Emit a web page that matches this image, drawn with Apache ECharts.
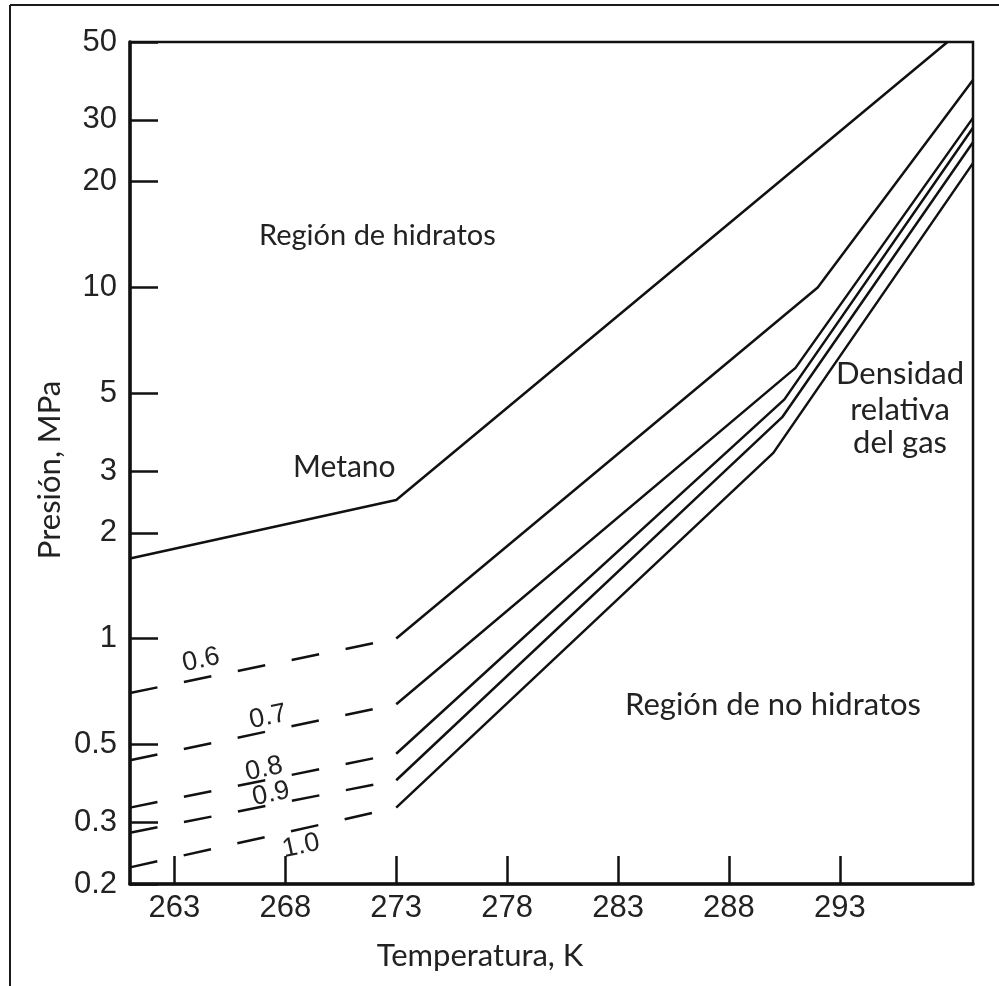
<!DOCTYPE html>
<html>
<head>
<meta charset="utf-8">
<script src="https://cdn.jsdelivr.net/npm/echarts@6/dist/echarts.min.js"></script>
<style>
  html, body { margin: 0; padding: 0; background: #ffffff; }
  #chart { width: 999px; height: 986px; }
</style>
</head>
<body>
<div id="chart"></div>
<script>
// Hydrate-formation conditions: pressure vs temperature for methane
// and for natural gases of several relative densities.

const xTicks = [263, 268, 273, 278, 283, 288, 293];
const yTicks = [0.2, 0.3, 0.5, 1, 2, 3, 5, 10, 20, 30, 50];

// Methane curve (K, MPa)
const metanoT = [261, 273, 297.85];
const metanoP = [1.69, 2.48, 50];

// Gas relative density curves
const gravities = ['0.6', '0.7', '0.8', '0.9', '1.0'];
const lowT = [261, 273];                       // dashed stretch below the ice point
const pAt261 = [0.70, 0.45, 0.33, 0.28, 0.223];
const pAt273 = [1.00, 0.65, 0.47, 0.395, 0.33];
const kinkT = [292, 291, 290.5, 290.4, 290];
const kinkP = [10.0, 5.9, 4.8, 4.27, 3.38];
const endT = 299;
const pAt299 = [39, 30.4, 28.5, 25.9, 22.6];

const INK = '#111111';
const TEXT = '#222222';
const LABEL_FONT = 'Liberation Sans';
const NOTE_FONT = 'Lato';

const series = [];
series.push({
  type: 'line',
  name: 'Metano',
  data: metanoT.map((t, i) => [t, metanoP[i]]),
  symbol: 'none',
  silent: true,
  lineStyle: { color: INK, width: 2.5 }
});
gravities.forEach((g, i) => {
  const low = [pAt261[i], pAt273[i]];
  series.push({
    type: 'line',
    name: g + ' (bajo 273 K)',
    data: lowT.map((t, j) => [t, low[j]]),
    symbol: 'none',
    silent: true,
    lineStyle: { color: INK, width: 2.5, type: [28, 27], cap: 'butt' }
  });
  series.push({
    type: 'line',
    name: g,
    data: [[273, pAt273[i]], [kinkT[i], kinkP[i]], [endT, pAt299[i]]],
    symbol: 'none',
    silent: true,
    lineStyle: { color: INK, width: 2.5 }
  });
});

// Curve labels on the dashed stretch
const densityLabelPos = [[201, 660], [268, 717], [264, 769], [271, 794], [301, 846]];
const densityLabels = gravities.map((g, i) => ({
  type: 'text',
  x: densityLabelPos[i][0],
  y: densityLabelPos[i][1],
  rotation: 12 * Math.PI / 180,
  style: {
    text: g, fill: TEXT, fontSize: 27, fontFamily: LABEL_FONT,
    align: 'center', verticalAlign: 'middle'
  }
}));

function note(text, x, y, align, size, rotation) {
  return {
    type: 'text', x: x, y: y, rotation: rotation || 0,
    style: {
      text: text, fill: TEXT, fontSize: size || 31, fontFamily: NOTE_FONT,
      align: align || 'left', verticalAlign: 'middle'
    }
  };
}

const option = {
  animation: false,
  backgroundColor: '#ffffff',
  grid: {
    left: 130, right: 26, top: 42, bottom: 102,
    show: true, borderColor: INK, borderWidth: 2.5, backgroundColor: 'transparent'
  },
  xAxis: {
    type: 'value',
    min: 261, max: 299,
    axisLine: { show: true, lineStyle: { color: INK, width: 3.5 } },
    axisTick: { show: true, inside: true, length: 28, customValues: xTicks,
                lineStyle: { color: INK, width: 2.5 } },
    axisLabel: { show: true, customValues: xTicks, margin: 9,
                 fontFamily: LABEL_FONT, fontSize: 31, color: TEXT },
    splitLine: { show: false }
  },
  yAxis: {
    type: 'log',
    logBase: 10,
    min: 0.2, max: 50,
    axisLine: { show: true, lineStyle: { color: INK, width: 3.5 } },
    axisTick: { show: true, inside: true, length: 28, customValues: yTicks,
                lineStyle: { color: INK, width: 2.5 } },
    axisLabel: { show: true, customValues: yTicks, margin: 13,
                 fontFamily: LABEL_FONT, fontSize: 31, color: TEXT,
                 formatter: v => String(v) },
    splitLine: { show: false },
    minorTick: { show: false }
  },
  series: series,
  graphic: [
    // outer frame (top and left edges)
    { type: 'line', shape: { x1: 10, y1: 5, x2: 999, y2: 5 }, style: { stroke: '#1a1a1a', lineWidth: 2 } },
    { type: 'line', shape: { x1: 10, y1: 5, x2: 10, y2: 986 }, style: { stroke: '#1a1a1a', lineWidth: 2 } },
    // axis titles
    note('Temperatura, K', 480, 956, 'center', 31),
    note('Presión, MPa', 50, 470, 'center', 31, Math.PI / 2),
    // region and curve notes
    note('Región de hidratos', 259, 236, 'left', 29),
    note('Metano', 293, 467, 'left', 30),
    note('Densidad', 900, 374, 'center'),
    note('relativa', 900, 410, 'center'),
    note('del gas', 900, 443, 'center'),
    note('Región de no hidratos', 625, 705)
  ].concat(densityLabels)
};

const chart = echarts.init(document.getElementById('chart'), null, { renderer: 'canvas' });
chart.setOption(option);
</script>
</body>
</html>
